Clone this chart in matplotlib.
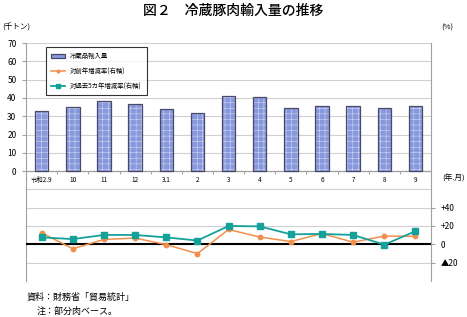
import matplotlib
matplotlib.use("Agg")
import matplotlib.pyplot as plt
import numpy as np

plt.rcParams['font.family'] = ['Noto Sans CJK JP', 'DejaVu Sans']
plt.rcParams['hatch.linewidth'] = 0.35

# data
months = ['令和2.9', '10', '11', '12', '3.1', '2', '3', '4', '5', '6', '7', '8', '9']
imports = [32.8, 35.1, 38.4, 36.9, 33.8, 32.0, 41.2, 40.7, 34.7, 35.8, 35.6, 34.3, 35.6]
yoy = [12.4, -4.9, 5.3, 6.8, -0.4, -10.2, 16.2, 7.9, 3.0, 11.7, 2.3, 9.0, 8.7]
vs5yr = [7.5, 5.7, 10.2, 10.2, 7.5, 4.1, 20.0, 19.6, 10.9, 11.3, 10.2, -0.4, 14.3]

x = np.arange(len(months))

fig = plt.figure(figsize=(4.67, 3.17), dpi=100)
ax = fig.add_axes([0.056, 0.114, 0.867, 0.75])

# grid
for g in range(-60, 71, 10):
    ax.axhline(g, color='#d0d0d0', lw=0.8, zorder=0)

# bars (hatched fill, then outline)
ax.bar(x, imports, width=0.43, color='#8798dc', hatch='+++', edgecolor='#d8def6',
       lw=0, zorder=2)
bars = ax.bar(x, imports, width=0.43, fill=False, edgecolor='#4a4a68', lw=0.9, zorder=3,
              label='冷蔵品輸入量')

ax.set_xlim(-0.5, len(months) - 0.5)
ax.set_ylim(-60, 70)
ax.set_yticks(range(0, 71, 10))
ax.tick_params(axis='y', labelsize=6, length=3, color='#a0a0a0', pad=4)
ax.set_xticks([])
ax.axhline(0, color='#a0a0a0', lw=0.9, zorder=1)
ax.vlines(x[:-1] + 0.5, -1.3, 0, color='#a0a0a0', lw=0.7)
for i, m in enumerate(months):
    ax.text(i, -2.5, m, ha='center', va='top', fontsize=4.6)

for s in ['top', 'bottom']:
    ax.spines[s].set_visible(False)
ax.spines['left'].set_color('#a0a0a0')
ax.spines['right'].set_visible(False)

# right axis for rates
ax2 = ax.twinx()
ax2.set_ylim(-40, 220)
ax2.set_xlim(-0.5, len(months) - 0.5)
ax2.axhline(0, color='black', lw=1.5, zorder=1)
l1, = ax2.plot(x, yoy, color='#f0904c', lw=1.1, marker='o', ms=3.2, zorder=4,
               label='対前年増減率(右軸)')
l2, = ax2.plot(x, vs5yr, color='#16a09a', lw=1.3, marker='s', ms=4, zorder=5,
               label='対過去5カ年増減率(右軸)')
ax2.set_yticks([-20, 0, 20, 40])
ax2.set_yticklabels(['▲20', '0', '+20', '+40'])
ax2.tick_params(axis='y', labelsize=6, length=3, color='#a0a0a0', pad=4)
for s in ['top', 'bottom', 'left']:
    ax2.spines[s].set_visible(False)
ax2.spines['right'].set_color('#a0a0a0')

leg = ax2.legend(handles=[bars, l1, l2], loc='upper left', bbox_to_anchor=(0.04, 0.997),
                 fontsize=4.6, frameon=True, fancybox=False, edgecolor='black',
                 handlelength=2.2, borderpad=0.8, labelspacing=1.1, markerscale=0.6)
leg.get_frame().set_linewidth(0.8)
leg.legend_handles[0].set_facecolor('#8798dc')
leg.legend_handles[0].set_fill(True)

fig.text(0.5, 0.965, '図２　冷蔵豚肉輸入量の推移', ha='center', va='center',
         fontsize=10, weight='medium')
fig.text(0.004, 0.912, '(千トン)', fontsize=5.5, va='center')
fig.text(0.945, 0.912, '(%)', fontsize=5.5, va='center')
fig.text(0.947, 0.437, '(年.月)', fontsize=5.5, va='center')
fig.text(0.058, 0.063, '資料：財務省「貿易統計」', fontsize=6.5, va='center')
fig.text(0.079, 0.018, '注：部分肉ベース。', fontsize=6.5, va='center')

fig.savefig('out.png', dpi=100)
